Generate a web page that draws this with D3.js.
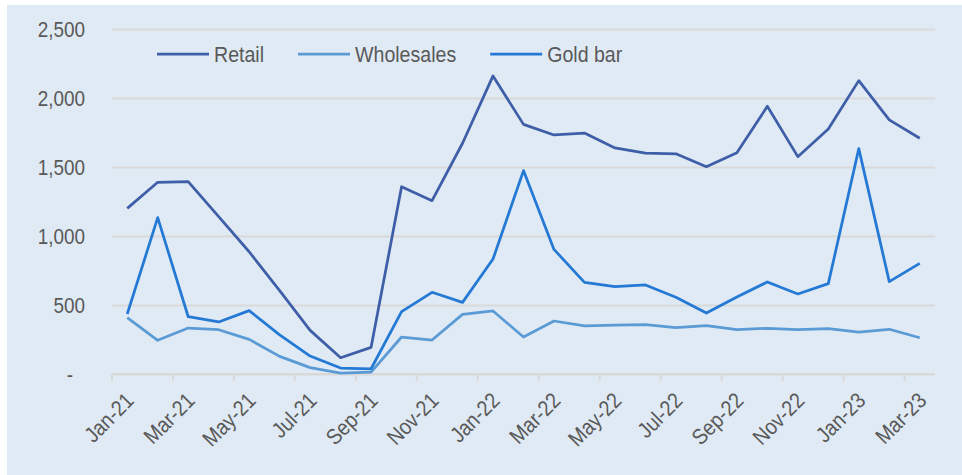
<!DOCTYPE html>
<html>
<head>
<meta charset="utf-8">
<script src="https://cdn.jsdelivr.net/npm/d3@7"></script>
<style>
  body { margin: 0; background: #fff; }
  text { font-family: "Liberation Sans", Arial, sans-serif; fill: #595959; }
</style>
</head>
<body>
<div id="chart"></div>
<script>
const width = 962,
  height = 475,
  margin = { top: 29, bottom: 101, left: 112, right: 27 };

// the chart's font is a bit condensed, so text is squeezed horizontally
const fontSize = 22,
  squeeze = 0.86;

// months shown on the x axis
const months = ["Jan-21","Feb-21","Mar-21","Apr-21","May-21","Jun-21","Jul-21","Aug-21","Sep-21",
  "Oct-21","Nov-21","Dec-21","Jan-22","Feb-22","Mar-22","Apr-22","May-22","Jun-22","Jul-22",
  "Aug-22","Sep-22","Oct-22","Nov-22","Dec-22","Jan-23","Feb-23","Mar-23"];

const retail = [1200,1389,1394,1140,886,604,316,118,193,1357,1256,1672,2160,1809,1732,1746,
  1638,1601,1596,1502,1604,1940,1575,1775,2126,1841,1708];
const wholesales = [408,244,333,321,251,128,46,7,14,268,246,432,457,268,384,348,
  355,357,336,350,321,331,321,328,304,324,263];
const goldBar = [435,1133,415,377,459,283,130,43,38,452,592,519,833,1474,903,664,
  633,645,556,442,558,667,580,655,1633,669,802];

const yTicks = [0,500,1000,1500,2000,2500];

const seriesNames = ["Retail","Wholesales","Gold bar"];
const seriesColors = ["#3e5ea8","#5b9bd5","#2479d5"];
const seriesValues = [retail, wholesales, goldBar];

const svg = d3.select("#chart").append("svg")
  .attr("width", width)
  .attr("height", height);

// panel background
svg.append("rect")
  .attr("x", 7).attr("y", 5)
  .attr("width", width - 7).attr("height", height - 5)
  .attr("fill", "#e0eaf5");

const xScale = d3.scaleBand()
  .domain(months)
  .range([margin.left, width - margin.right])
  .padding(0);

const yScale = d3.scaleLinear()
  .domain([0, 2500])
  .range([height - margin.bottom, margin.top]);

// y axis + gridlines
const yAxis = d3.axisLeft(yScale)
  .tickValues(yTicks)
  .tickSize(-(width - margin.left - margin.right))
  .tickFormat(d => d === 0 ? "-" : d3.format(",")(d));

const yAxisGroup = svg.append("g")
  .attr("transform", `translate(${margin.left},0)`)
  .call(yAxis);
yAxisGroup.select(".domain").remove();
yAxisGroup.selectAll(".tick line")
  .attr("stroke", "#d9d9d9")
  .attr("stroke-width", 2);
yAxisGroup.selectAll(".tick text")
  .style("font-size", fontSize + "px")
  .attr("dy", "0.33em")
  .attr("x", d => (d === 0 ? -39 : -27) / squeeze)
  .attr("transform", `scale(${squeeze},1)`);

// x axis
const labelMonths = months.filter((d, i) => i % 2 === 0);
const xAxisGroup = svg.append("g")
  .attr("transform", `translate(0,${height - margin.bottom})`);

xAxisGroup.append("line")
  .attr("x1", margin.left).attr("x2", width - margin.right)
  .attr("stroke", "#d9d9d9").attr("stroke-width", 2);

xAxisGroup.selectAll(".tickmark")
  .data(labelMonths)
  .join("line")
  .attr("class", "tickmark")
  .attr("x1", d => xScale(d)).attr("x2", d => xScale(d))
  .attr("y1", 0).attr("y2", 7)
  .attr("stroke", "#d9d9d9").attr("stroke-width", 2);

xAxisGroup.selectAll(".xlabel")
  .data(labelMonths)
  .join("text")
  .attr("class", "xlabel")
  .attr("text-anchor", "end")
  .style("font-size", fontSize + "px")
  .attr("transform", d => `translate(${xScale(d) + xScale.bandwidth() / 2 + 8},${28}) rotate(-45) scale(${squeeze + 0.02},1)`)
  .text(d => d);

// lines
const line = d3.line()
  .x((d, i) => xScale(months[i]) + xScale.bandwidth() / 2)
  .y(d => yScale(d));

svg.selectAll(".series")
  .data(seriesValues)
  .join("path")
  .attr("class", "series")
  .attr("fill", "none")
  .attr("stroke", (d, i) => seriesColors[i])
  .attr("stroke-width", 2.75)
  .attr("stroke-linejoin", "round")
  .attr("d", line);

// legend
const legend = svg.append("g").attr("transform", "translate(157,54)");
const legendSqueeze = 0.89;
let lx = 0;
seriesNames.forEach((name, i) => {
  const g = legend.append("g").attr("transform", `translate(${lx},0)`);
  g.append("line")
    .attr("x1", 0).attr("x2", 52)
    .attr("stroke", seriesColors[i])
    .attr("stroke-width", 2.75);
  const t = g.append("text")
    .attr("transform", `translate(57,0) scale(${legendSqueeze},1)`)
    .attr("dy", "0.35em")
    .style("font-size", fontSize + "px")
    .text(name);
  lx += 57 + t.node().getComputedTextLength() * legendSqueeze + 34;
});
</script>
</body>
</html>
